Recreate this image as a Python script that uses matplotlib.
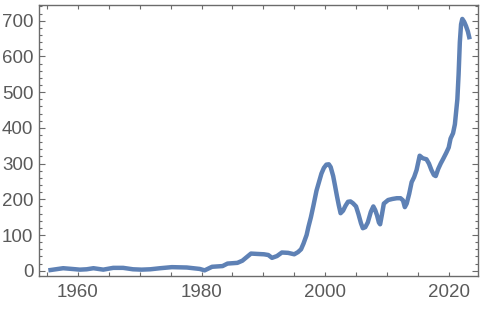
import matplotlib
matplotlib.use("Agg")
import matplotlib.pyplot as plt
from matplotlib.ticker import MultipleLocator, FixedLocator

years = [1955.2, 1956.4, 1957.6, 1959.0, 1960.3, 1961.4, 1962.5, 1964.1, 1965.7, 1967.3,
         1968.9, 1970.3, 1971.7, 1973.3, 1975.2, 1977.6, 1979.7, 1980.5, 1981.7, 1983.4,
         1984.2, 1985.8, 1986.6, 1987.3, 1988.0, 1989.0, 1990.1, 1990.8, 1991.4, 1992.2,
         1993.0, 1994.0, 1995.0, 1995.6, 1996.1, 1996.5, 1997.0, 1997.3, 1997.7, 1998.1,
         1998.6, 1999.0, 1999.4, 1999.8, 2000.2, 2000.6, 2000.9, 2001.3, 2001.6, 2001.9,
         2002.2, 2002.5, 2002.9, 2003.3, 2003.7, 2004.1, 2004.5, 2005.0, 2005.4, 2005.8,
         2006.1, 2006.5, 2006.9, 2007.4, 2007.8, 2008.1, 2008.4, 2008.7, 2008.9, 2009.2,
         2009.5, 2010.2, 2010.9, 2011.6, 2012.2, 2012.6, 2012.9, 2013.2, 2013.6, 2014.0,
         2014.4, 2014.8, 2015.3, 2015.8, 2016.4, 2016.8, 2017.2, 2017.6, 2017.9, 2018.3,
         2018.7, 2019.1, 2019.6, 2020.0, 2020.3, 2020.7, 2021.0, 2021.2, 2021.4, 2021.6,
         2021.8, 2022.0, 2022.2, 2022.5, 2022.8, 2023.1, 2023.4]
values = [1, 4, 7, 5, 3, 4, 7, 3, 8, 8,
          4, 3, 4, 7, 10, 9, 5, 1, 11, 13,
          20, 22, 28, 38, 48, 47, 46, 44, 36, 41,
          51, 50, 46, 52, 60, 76, 100, 123, 150, 182,
          224, 248, 272, 288, 297, 298, 290, 265, 238, 210,
          184, 161, 168, 182, 193, 194, 189, 180, 158, 133,
          119, 122, 135, 165, 180, 170, 155, 135, 130, 158,
          188, 198, 201, 203, 203, 197, 178, 188, 215, 248,
          262, 282, 322, 315, 312, 300, 282, 268, 265, 285,
          300, 313, 330, 345, 370, 385, 410, 445, 480, 550,
          640, 690, 705, 697, 685, 670, 648]

xticks_major = [1960, 1980, 2000, 2020]
yticks_major = [0, 100, 200, 300, 400, 500, 600, 700]

line_color = "#5E81B5"
frame_color = "#6b6b6b"
label_color = "#5a5a5a"

plt.rcParams['font.family'] = ['Liberation Sans', 'DejaVu Sans']

fig = plt.figure(figsize=(4.82, 3.09), dpi=100)
ax = fig.add_axes([39/482, 33/309, 439/482, 271/309])
ax.plot(years, values, color=line_color, lw=3.2, solid_joinstyle='round', solid_capstyle='butt')

ax.set_xlim(1953.69, 2024.74)
ax.set_ylim(-14.8, 744)

ax.xaxis.set_major_locator(FixedLocator(xticks_major))
ax.xaxis.set_minor_locator(MultipleLocator(5))
ax.yaxis.set_major_locator(FixedLocator(yticks_major))
ax.yaxis.set_minor_locator(MultipleLocator(20))

for s in ax.spines.values():
    s.set_color(frame_color)
    s.set_linewidth(1.0)

ax.tick_params(axis='both', which='both', direction='in', color=frame_color,
               top=True, right=True, labelcolor=label_color, labelsize=13.5)
ax.tick_params(axis='x', which='major', length=3, width=0.8, pad=6)
ax.tick_params(axis='x', which='minor', length=3, width=0.8)
ax.tick_params(axis='y', which='major', length=4, width=0.8, pad=4)
ax.tick_params(axis='y', which='minor', length=2, width=0.8)

fig.savefig("out.png", dpi=100)
